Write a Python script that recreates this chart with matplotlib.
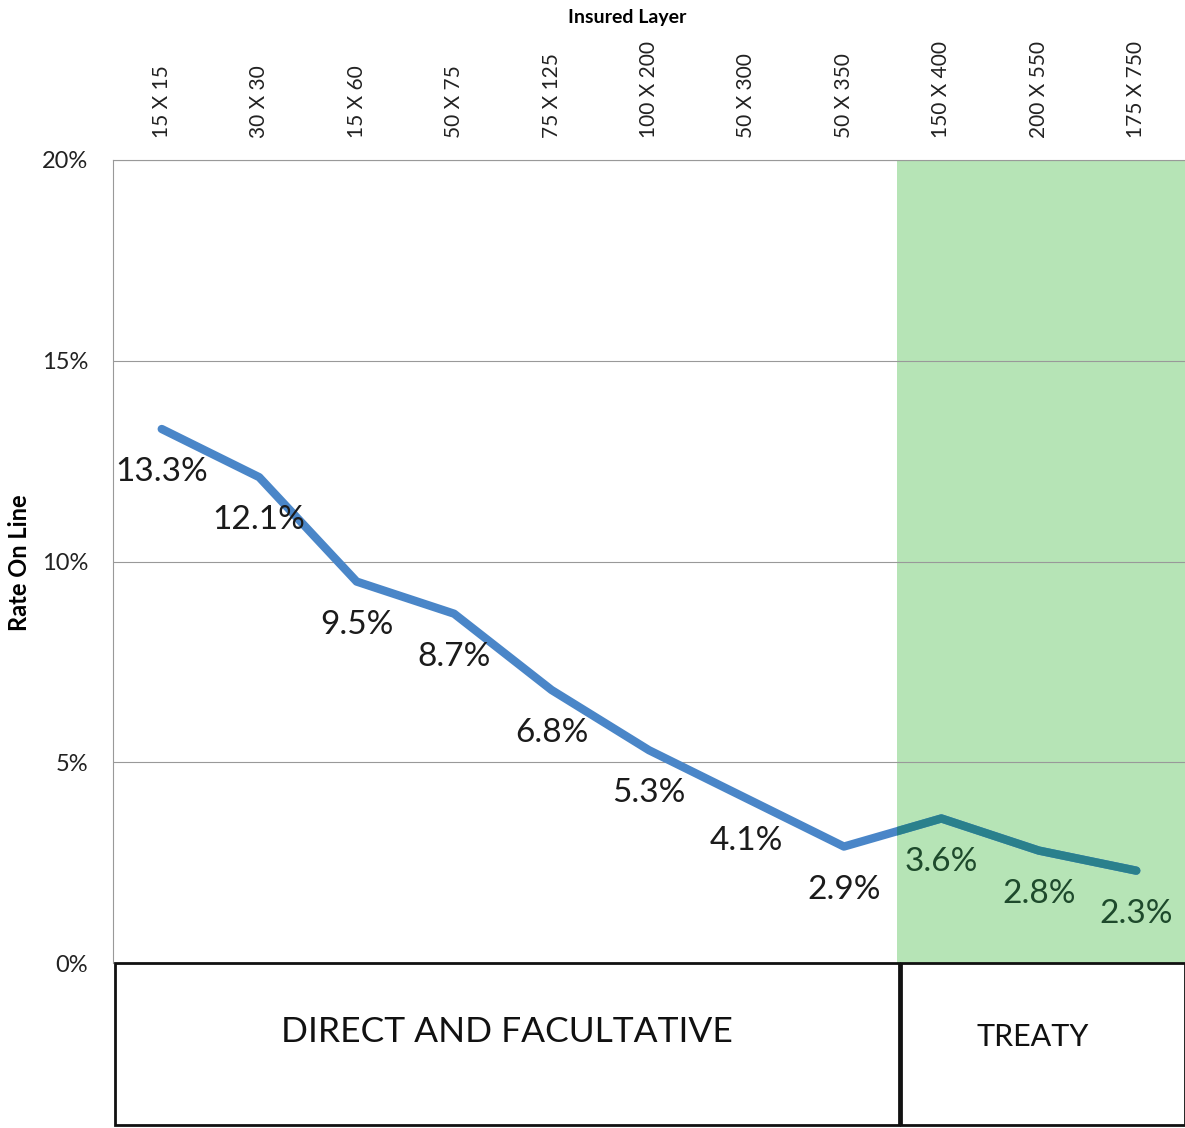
import matplotlib
matplotlib.use('Agg')
import matplotlib.pyplot as plt
from matplotlib.patches import Rectangle

plt.rcParams['font.family'] = ['Lato', 'DejaVu Sans']

layers = ['15 X 15', '30 X 30', '15 X 60', '50 X 75', '75 X 125', '100 X 200',
          '50 X 300', '50 X 350', '150 X 400', '200 X 550', '175 X 750']
rol = [13.3, 12.1, 9.5, 8.7, 6.8, 5.3, 4.1, 2.9, 3.6, 2.8, 2.3]
yticks = [0, 5, 10, 15, 20]
n_direct = 8  # first 8 layers are direct & facultative, rest treaty

W, H = 1185, 1128
fig = plt.figure(figsize=(W/100, H/100), dpi=100)
ax = fig.add_axes([113/W, 1-963/H, (W-113)/W, (963-160)/H])

x = list(range(len(layers)))
ax.set_xlim(-0.5, len(layers)-0.5)
ax.set_ylim(0, 20)

span = ax.axvspan(n_direct-0.46, len(layers)-0.5, color='#b6e4b6', lw=0, zorder=1)
for t in yticks[1:]:
    ax.axhline(t, color='#999999', lw=0.8, zorder=1.5)

ax.plot(x, rol, color='#4a86c8', lw=6, solid_capstyle='round', zorder=3)
teal, = ax.plot(x, rol, color='#2a808c', lw=6, solid_capstyle='round', zorder=3.5)
teal.set_clip_path(span)

for i, v in enumerate(rol):
    c = '#1b1b1b' if i < n_direct else '#1e4a2c'
    ax.annotate(f'{v:.1f}%', (i, v), xytext=(0, -31), textcoords='offset points',
                ha='center', va='center', fontsize=24, color=c, zorder=6)

ax.set_yticks(yticks)
ax.set_yticklabels([f'{t}%' for t in yticks], fontsize=17, color='#222222')

ax.xaxis.tick_top()
ax.set_xticks(x)
ax.set_xticklabels(layers, rotation=90, fontsize=15, color='#222222')
ax.tick_params(axis='both', length=0)
ax.tick_params(axis='x', pad=16)
ax.tick_params(axis='y', pad=18)

for s in ['right', 'bottom']:
    ax.spines[s].set_visible(False)
for s in ['left', 'top']:
    ax.spines[s].set_color('#999999')
    ax.spines[s].set_linewidth(0.8)

fig.text(627/W, 1-18/H, 'Insured Layer', ha='center', va='center', fontsize=14, fontweight='bold')
fig.text(20/W, 1-563/H, 'Rate On Line', ha='center', va='center', rotation=90,
         fontsize=17, fontweight='bold')

# category boxes below the chart
boxes = [(115, 899, 'DIRECT AND FACULTATIVE', 507, 1032, 25.5),
         (901, 1185, 'TREATY', 1033, 1037, 22)]
for x0, x1, label, tx, ty, fs in boxes:
    fig.add_artist(Rectangle((x0/W, 1-1125/H), (x1-x0)/W, (1125-963)/H,
                             transform=fig.transFigure, fill=False, ec='#111111', lw=2))
    fig.text(tx/W, 1-ty/H, label, ha='center', va='center', fontsize=fs, color='#111111')

fig.savefig('out.png', dpi=100)
